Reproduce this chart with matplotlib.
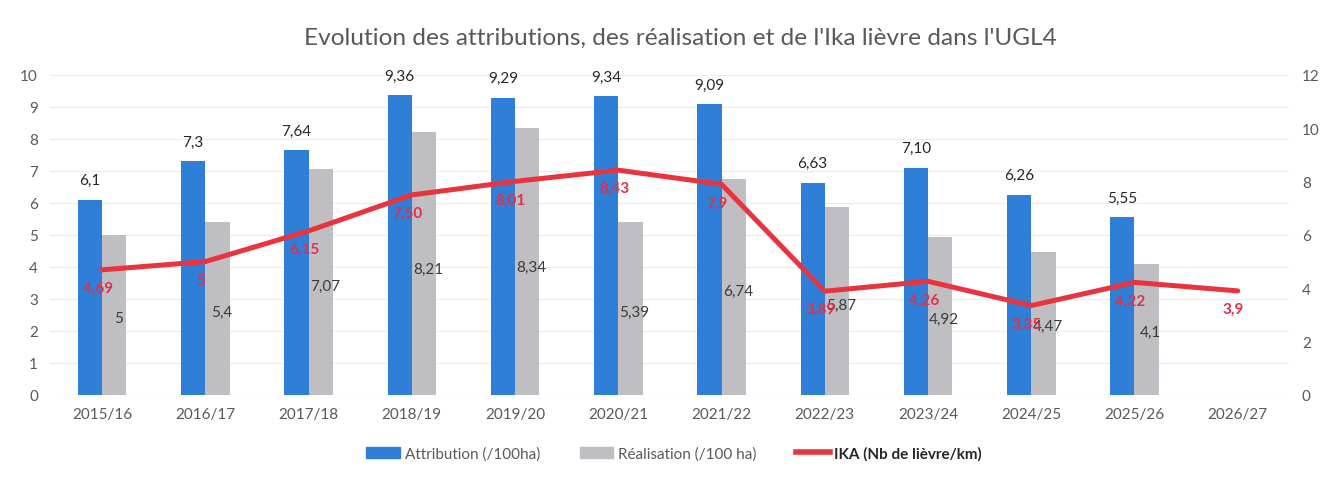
import matplotlib
matplotlib.use("Agg")
import matplotlib.pyplot as plt
from matplotlib.patches import Patch
from matplotlib.lines import Line2D
import numpy as np

plt.rcParams['font.family'] = ['Lato', 'DejaVu Sans']

seasons = ["2015/16", "2016/17", "2017/18", "2018/19", "2019/20", "2020/21",
           "2021/22", "2022/23", "2023/24", "2024/25", "2025/26", "2026/27"]
attribution = [6.1, 7.3, 7.64, 9.36, 9.29, 9.34, 9.09, 6.63, 7.10, 6.26, 5.55]
attribution_labels = ["6,1", "7,3", "7,64", "9,36", "9,29", "9,34", "9,09", "6,63", "7,10", "6,26", "5,55"]
realisation = [5, 5.4, 7.07, 8.21, 8.34, 5.39, 6.74, 5.87, 4.92, 4.47, 4.1]
realisation_labels = ["5", "5,4", "7,07", "8,21", "8,34", "5,39", "6,74", "5,87", "4,92", "4,47", "4,1"]
ika = [4.69, 5, 6.15, 7.50, 8.01, 8.43, 7.9, 3.89, 4.26, 3.35, 4.22, 3.9]
ika_labels = ["4,69", "5", "6,15", "7,50", "8,01", "8,43", "7,9", "3,89", "4,26", "3,35", "4,22", "3,9"]

BLUE = "#2f7fd9"
GREY = "#bfbfc3"
RED = "#e8343f"
RED_TXT = "#e0304a"
TICK = "#595959"

fig = plt.figure(figsize=(13.35, 4.81), dpi=100)
ax = fig.add_axes([0.0378, 0.177, 0.928, 0.665])
ax2 = ax.twinx()

x = np.arange(len(seasons))
xb = np.arange(len(attribution))
w = 0.235

ax.bar(xb - w / 2, attribution, width=w, color=BLUE, zorder=2)
ax.bar(xb + w / 2, realisation, width=w, color=GREY, zorder=2)

for i, (v, lab) in enumerate(zip(attribution, attribution_labels)):
    ax.annotate(lab, (i - w / 2, v), xytext=(0, 9), textcoords="offset points",
                ha="center", va="bottom", fontsize=11, color="#262626")
for i, (v, lab) in enumerate(zip(realisation, realisation_labels)):
    ax.annotate(lab, (i + w / 2, v * 0.48), xytext=(3, 0), textcoords="offset points",
                ha="center", va="center", fontsize=11, color="#3a3a3a", zorder=5)

ax2.plot(x, ika, color=RED, lw=3.6, solid_capstyle="round", zorder=3)
for i, (v, lab) in enumerate(zip(ika, ika_labels)):
    ax2.annotate(lab, (i, v), xytext=(-3, -13), textcoords="offset points",
                 ha="center", va="center", fontsize=11, color=RED_TXT, fontweight="bold")

ax.set_xlim(-0.5, len(seasons) - 0.5)
ax.set_ylim(0, 10)
ax.set_yticks(range(0, 11))
ax2.set_ylim(0, 12)
ax2.set_yticks(range(0, 13, 2))
ax.set_xticks(x)
ax.set_xticklabels(seasons)

for a in (ax, ax2):
    for s in a.spines.values():
        s.set_visible(False)
    a.tick_params(axis="both", length=0, labelsize=11, colors=TICK)
ax.tick_params(axis="y", pad=9)
ax2.tick_params(axis="y", pad=9)
ax.tick_params(axis="x", pad=9)

ax.grid(axis="y", color="#ececec", lw=0.9, zorder=0)
ax.set_axisbelow(True)

fig.text(0.51, 0.92, "Evolution des attributions, des réalisation et de l'Ika lièvre dans l'UGL4",
         ha="center", va="center", fontsize=17.6, color="#595959")

handles = [Patch(color=BLUE), Patch(color=GREY), Line2D([0], [0], color=RED, lw=4)]
labels = ["Attribution (/100ha)", "Réalisation (/100 ha)", "IKA (Nb de lièvre/km)"]
leg = fig.legend(handles, labels, loc="center", bbox_to_anchor=(0.505, 0.055), ncol=3,
                 frameon=False, fontsize=11, handlelength=2.2, handleheight=0.7,
                 columnspacing=2.6, handletextpad=0.3)
for t in leg.get_texts():
    t.set_color(TICK)
leg.get_texts()[2].set_color("#262626")
leg.get_texts()[2].set_fontweight("bold")

fig.savefig("out.png", dpi=100)
